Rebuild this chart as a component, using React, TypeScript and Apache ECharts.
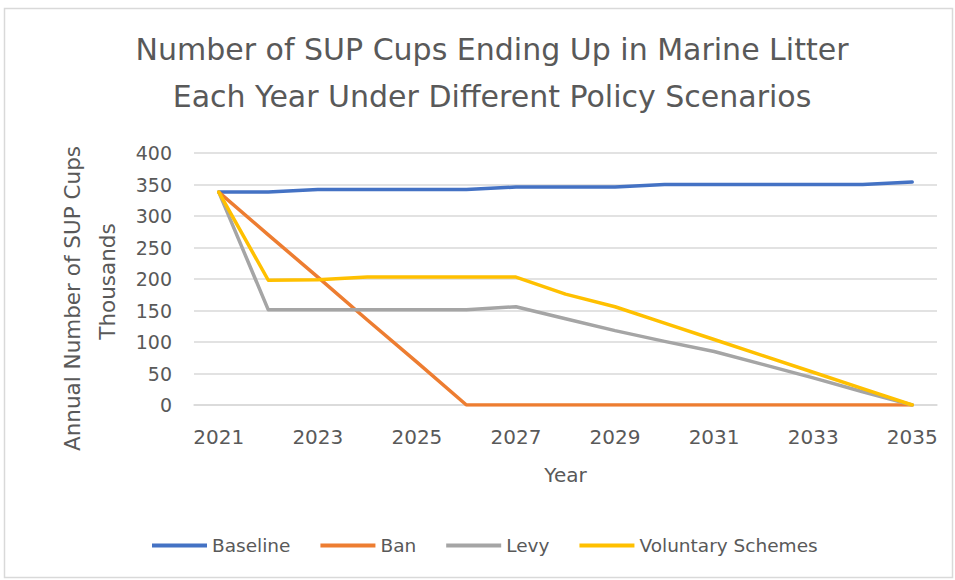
import React, { useEffect, useRef } from "react";
import * as echarts from "echarts";

const years = ["2021","2022","2023","2024","2025","2026","2027","2028","2029","2030","2031","2032","2033","2034","2035"];
const baseline = [338, 338, 342, 342, 342, 342, 346, 346, 346, 350, 350, 350, 350, 350, 354];
const ban = [338, 270, 203, 135, 68, 0, 0, 0, 0, 0, 0, 0, 0, 0, 0];
const levy = [338, 151, 151, 151, 151, 151, 156, 137, 118, 101, 85, 64, 43, 21, 0];
const voluntary = [338, 198, 199, 203, 203, 203, 203, 176, 156, 130, 104, 78, 52, 26, 0];

const FONT = "'DejaVu Sans', sans-serif";
const TXT = "#595959";
const GRID = "#d9d9d9";

export default function App() {
  const ref = useRef<HTMLDivElement>(null);
  useEffect(() => {
    if (!ref.current) return;
    const chart = echarts.init(ref.current, undefined, { renderer: "svg" });
    const mk = (name: string, data: number[], color: string) => ({
      name,
      type: "line",
      data,
      symbol: "none",
      smooth: false,
      itemStyle: { color },
      lineStyle: { color, width: 3.5, cap: "round", join: "round" },
    });
    chart.setOption({
      animation: false,
      backgroundColor: "#ffffff",
      textStyle: { fontFamily: FONT, color: TXT },
      title: {
        text: "Number of SUP Cups Ending Up in Marine Litter\nEach Year Under Different Policy Scenarios",
        left: 487,
        textAlign: "center",
        top: 21,
        textStyle: { fontFamily: FONT, fontSize: 30, fontWeight: "normal", color: TXT, lineHeight: 47 },
      },
      graphic: [
        {
          type: "rect",
          shape: { x: 4.5, y: 8.5, width: 948, height: 569 },
          style: { fill: "none", stroke: GRID, lineWidth: 1.5 },
          silent: true,
        },
        {
          type: "text",
          x: 72,
          y: 298.5,
          rotation: Math.PI / 2,
          style: {
            text: "Annual Number of SUP Cups",
            fill: TXT,
            font: `21.5px ${FONT}`,
            textAlign: "center",
            textVerticalAlign: "middle",
          },
          silent: true,
        },
        {
          type: "text",
          x: 107,
          y: 281.5,
          rotation: Math.PI / 2,
          style: {
            text: "Thousands",
            fill: TXT,
            font: `21.5px ${FONT}`,
            textAlign: "center",
            textVerticalAlign: "middle",
          },
          silent: true,
        },
      ],
      legend: {
        bottom: 20,
        left: 147,
        icon: "rect",
        itemWidth: 55,
        itemHeight: 4,
        itemGap: 30,
        textStyle: { fontFamily: FONT, fontSize: 18.5, color: TXT },
        data: ["Baseline", "Ban", "Levy", "Voluntary Schemes"],
      },
      grid: { left: 194, right: 18, top: 153, bottom: 175, containLabel: false },
      xAxis: {
        type: "category",
        data: years,
        boundaryGap: true,
        name: "Year",
        nameLocation: "middle",
        nameGap: 60,
        nameTextStyle: { fontFamily: FONT, fontSize: 20, color: TXT },
        axisTick: { show: false },
        axisLine: { show: true, lineStyle: { color: GRID, width: 1.5 } },
        axisLabel: { interval: 1, fontFamily: FONT, fontSize: 20, color: TXT, margin: 22 },
      },
      yAxis: {
        type: "value",
        min: 0,
        max: 400,
        interval: 50,
        axisLine: { show: false },
        axisTick: { show: false },
        splitLine: { lineStyle: { color: GRID, width: 1.5 } },
        axisLabel: { fontFamily: FONT, fontSize: 19, color: TXT, margin: 22 },
      },
      series: [
        mk("Baseline", baseline, "#4472C4"),
        mk("Ban", ban, "#ED7D31"),
        mk("Levy", levy, "#A5A5A5"),
        mk("Voluntary Schemes", voluntary, "#FFC000"),
      ],
    });
    return () => chart.dispose();
  }, []);
  return (
    <div
      ref={ref}
      style={{ position: "absolute", left: 0, top: 0, width: 955, height: 580 }}
    />
  );
}
